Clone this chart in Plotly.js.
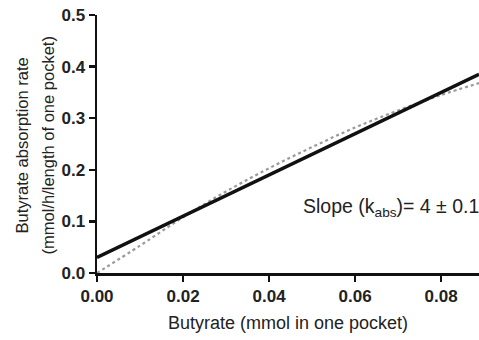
<!DOCTYPE html>
<html><head><meta charset="utf-8">
<script src="https://cdn.plot.ly/plotly-3.0.1.min.js"></script>
<style>html,body{margin:0;padding:0;background:#fff}#chart{width:479px;height:340px}</style>
</head><body><div id="chart"></div>
<script>
const fitX = [0, 0.0888];
const fitY = [0.03, 0.385];
const curveX = [0, 0.01, 0.02, 0.03, 0.04, 0.05, 0.06, 0.07, 0.08, 0.0888];
const curveY = [0, 0.053, 0.108, 0.158, 0.203, 0.244, 0.282, 0.315, 0.345, 0.368];
const xTicks = [0, 0.02, 0.04, 0.06, 0.08];
const xTickLabels = ['0.00', '0.02', '0.04', '0.06', '0.08'];
const yTicks = [0, 0.1, 0.2, 0.3, 0.4, 0.5];
const yTickLabels = ['0.0', '0.1', '0.2', '0.3', '0.4', '0.5'];
const yTitleLines = ['Butyrate absorption rate', '(mmol/h/length of one pocket)'];

const traces = [
  {x: curveX, y: curveY, mode: 'lines', line: {color: '#9a9a9a', width: 2.2, dash: 'dot', shape: 'spline'}, hoverinfo: 'skip'},
  {x: fitX, y: fitY, mode: 'lines', line: {color: '#111', width: 3.5}, hoverinfo: 'skip'}
];
const FAM = 'Liberation Sans, Arial, sans-serif';
const tickFont = {family: FAM, size: 17, color: '#222', weight: 'bold'};
const titleFont = {family: FAM, size: 16.5, color: '#222'};
const layout = {
  width: 479, height: 340,
  margin: {l: 97, r: 0, t: 15, b: 67},
  paper_bgcolor: '#fff', plot_bgcolor: '#fff',
  showlegend: false,
  xaxis: {
    range: [0, 0.0888], tickvals: xTicks, ticktext: xTickLabels,
    showgrid: false, zeroline: false, showline: true, linecolor: '#111', linewidth: 2.5,
    ticks: 'outside', ticklen: 6, tickwidth: 2.5, tickcolor: '#111',
    tickfont: tickFont,
    title: {text: 'Butyrate (mmol in one pocket)', font: {family: FAM, size: 18, color: '#222'}, standoff: 12}
  },
  yaxis: {
    range: [0, 0.5], tickvals: yTicks, ticktext: yTickLabels,
    showgrid: false, zeroline: false, showline: true, linecolor: '#111', linewidth: 2.5,
    ticks: 'outside', ticklen: 6, tickwidth: 2.5, tickcolor: '#111',
    tickfont: tickFont
  },
  annotations: [
    {x: -0.196, y: 0.495, xref: 'paper', yref: 'paper', xanchor: 'center', yanchor: 'middle',
     textangle: -90, text: yTitleLines[0], showarrow: false, font: titleFont},
    {x: -0.128, y: 0.495, xref: 'paper', yref: 'paper', xanchor: 'center', yanchor: 'middle',
     textangle: -90, text: yTitleLines[1], showarrow: false, font: titleFont},
    {x: 0.0474, y: 0.126, xref: 'x', yref: 'y', xanchor: 'left', yanchor: 'middle',
     text: 'Slope (k<sub>abs</sub>)= 4 ± 0.1', showarrow: false,
     font: {family: FAM, size: 19.5, color: '#222'}}
  ]
};
Plotly.newPlot('chart', traces, layout, {staticPlot: true, displayModeBar: false});
</script></body></html>
